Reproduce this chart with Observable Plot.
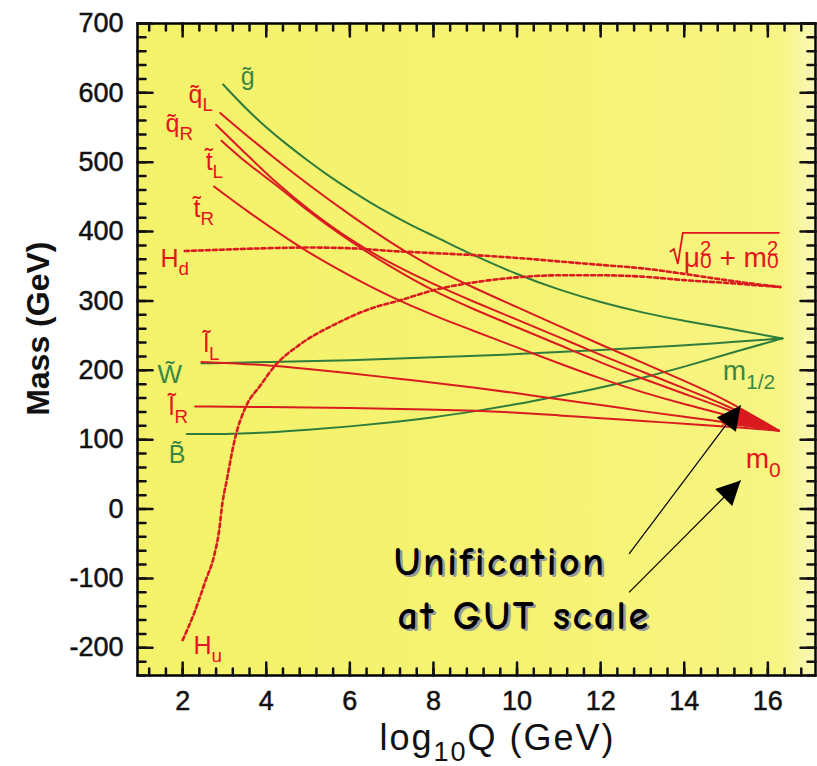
<!DOCTYPE html>
<html><head><meta charset="utf-8">
<script src="https://cdn.jsdelivr.net/npm/d3@7"></script>
<script src="https://cdn.jsdelivr.net/npm/@observablehq/plot@0.6"></script>
<style>
html,body{margin:0;padding:0;background:#fff;}
#chart svg{display:block;}
g[aria-label="y-axis tick label"] text, g[aria-label="x-axis tick label"] text{stroke:#111;stroke-width:0.5px;}
</style></head><body><div id="chart"></div>
<script>
// ---- data (x = log10 Q, y = mass in GeV) ----
const gluino = [[2.97,612],[3.5,578],[4,550],[4.5,525],[5,502],[5.5,480],[6,460],[6.75,432],[7.5,408],[8,394],[8.5,379],[9,365],[10,338],[11,316],[12,298],[13,283],[14,271],[15,261],[16.35,246]];
const wino   = [[2.45,210],[4,212],[6,214],[8,219],[10,223],[12,229],[14,236],[15,240],[16.35,246]];
const bino   = [[2.1,108],[3,108],[4,110],[5,114],[6,119],[7,125],[8,132],[9,141],[10,151],[11,163],[12,175],[13,189],[14,205],[15,223],[16.35,246]];
const squarkL = [[2.9,571],[3.6,535],[4.3,501],[5,468],[6,424],[7,383],[8,347],[9,318],[10,291],[11,264],[12,237],[13,211],[14,185],[15,158],[16.26,113]];
const squarkR = [[2.8,554],[3.6,507],[4.3,467],[5,432],[6,388],[7,353],[8,324],[9,298],[10,273],[11,248],[12,222],[13,198],[14,174],[15,150],[16.26,113]];
const stopL   = [[2.93,531],[3.6,495],[4.3,465],[5,429],[6,386],[7,348],[8,314],[9,287],[10,262],[11,237],[12,211],[13,188],[14,166],[15,145],[16.26,113]];
const stopR   = [[2.75,465],[3.6,427],[4.3,398],[5,370],[6,336],[7,305],[8,279],[9,256],[10,233],[11,210],[12,188],[13,168],[14,151],[15,136],[16.26,113]];
const sleptonL = [[2.45,212],[4,208],[5,202],[6,196],[7,189],[8,182],[9,175],[10,167],[11,158],[12,150],[13,141],[14,133],[15,125],[16.26,113]];
const sleptonR = [[2.3,148],[4,147],[6,146],[8,143],[9,142],[10,139],[11,135],[12,131],[13,127],[14,123],[15,119],[16.26,113]];
const higgsD = [[2.05,372],[3,374],[4,376],[5,377],[6,376],[7,372],[8,369],[9,366],[10,362],[11,357],[12,352],[13,347],[14,339],[15,330],[16.3,320]];
const higgsU = [[2.0,-189],[2.27,-151],[2.55,-103],[2.75,-68],[2.87,-32],[2.95,8],[3.05,40],[3.27,106],[3.5,146],[3.87,179],[4.2,206],[4.8,237],[5.7,268],[6.5,289],[7.2,301],[8.17,318],[9,327],[10,334],[11,337],[12,337],[13,335],[14,330],[15,326],[16.3,320]];
const wedgeX = [14.9, 15.3, 16.26];
const wedgeLow = [121, 119, 113];
const wedgeHigh = [121, 146, 113];

const labelText = ["g̃","q̃_{L}","q̃_{R}","t̃_{L}","t̃_{R}","H_{d}","μ^{2}_{0} + m^{2}_{0}","l̃_{L}","W̃","l̃_{R}","B̃","H_{u}","m_{1/2}","m_{0}"];
const labelX    = [3.39, 2.14, 1.59, 2.55, 2.26, 1.47, 13.99, 2.5, 1.4, 1.67, 1.67, 2.26, 14.92, 15.47];
const labelY    = [611, 585, 543, 489, 421, 349, 349, 226, 181, 135, 66, -209, 186, 59];
const labelKind = ["g","r","r","r","r","r","r","r","g","r","g","r","g","r"];
const labelSize = [25, 25, 25, 25, 25, 25, 28, 25, 26, 25, 25, 25, 28, 28];

const noteLines = ["Unification", "at GUT scale"];
const noteX = [7.05, 7.14];
const noteY = [-94.5, -172.5];

const arrowX1 = [12.68, 12.68], arrowY1 = [-64.7, -120.1];
const arrowX2 = [15.35, 15.35], arrowY2 = [149.4, 41.1];

const xTickLabels = [2,4,6,8,10,12,14,16];
const yTickLabels = [-200,-100,0,100,200,300,400,500,600,700];
const xMinor = d3.range(3, 43).map(i => +(i * 0.4).toFixed(1));
const yMinor = d3.range(-12, 36).map(i => i * 20);
const xDomain = [0.92, 17.14], yDomain = [-240, 700];

// ---- build tables ----
const RED = "#d91b20", GREEN = "#2f7c3c", RED_T = "#e3141e", GREEN_T = "#3a8744";
const series = [
  ["gluino", gluino, "g", false], ["wino", wino, "g", false], ["bino", bino, "g", false],
  ["squarkL", squarkL, "r", false], ["squarkR", squarkR, "r", false], ["stopL", stopL, "r", false], ["stopR", stopR, "r", false],
  ["sleptonL", sleptonL, "r", false], ["sleptonR", sleptonR, "r", false],
  ["higgsD", higgsD, "r", true], ["higgsU", higgsU, "r", true]
];
const rows = series.flatMap(([name, pts, kind, dotted]) => pts.map(([x, y]) => ({name, x, y, kind, dotted})));
const wedge = wedgeX.map((x, i) => ({x, y1: wedgeLow[i], y2: wedgeHigh[i]}));
const labels = labelText.map((t, i) => ({t, x: labelX[i], y: labelY[i], c: labelKind[i] === "g" ? GREEN_T : RED_T, s: labelSize[i]}));
const notes = noteLines.map((t, i) => ({t, x: noteX[i], y: noteY[i]}));
const arrows = arrowX1.map((x1, i) => ({x1, y1: arrowY1[i], x2: arrowX2[i], y2: arrowY2[i]}));

const W = 817, H = 766, ML = 137, MR = 2, MT = 23, MB = 91;
const innerW = W - ML - MR, innerH = H - MT - MB;
const ux = (xDomain[1] - xDomain[0]) / innerW, uy = (yDomain[1] - yDomain[0]) / innerH;
const [xa, xb] = xDomain, [ya, yb] = yDomain;
// inward tick segments (pixel lengths converted to data units), as 2-point polylines
let tid = 0;
const seg = (x1, y1, x2, y2) => { const id = tid++; return [{id, x: x1, y: y1}, {id, x: x2, y: y2}]; };
const tickRows = [
  ...xTickLabels.flatMap(v => [...seg(v, ya, v, ya + 13 * uy), ...seg(v, yb, v, yb - 13 * uy)]),
  ...xMinor.flatMap(v => [...seg(v, ya, v, ya + 7 * uy), ...seg(v, yb, v, yb - 7 * uy)]),
  ...yTickLabels.flatMap(v => [...seg(xa, v, xa + 15 * ux, v), ...seg(xb, v, xb - 15 * ux, v)]),
  ...yMinor.flatMap(v => [...seg(xa, v, xa + 8 * ux, v), ...seg(xb, v, xb - 8 * ux, v)])
];

const fmt = d => `${d}`;
const labelMarks = d3.groups(labels, d => d.s + d.c).map(([, arr]) =>
  Plot.text(arr, {x: "x", y: "y", text: "t", fill: arr[0].c, fontSize: arr[0].s, textAnchor: "start", lineAnchor: "bottom", fontFamily: "Liberation Sans, Arial, sans-serif"}));
const noteFont = "'Comic Sans MS', 'Comic Neue', 'Open Sans', sans-serif";

const chart = Plot.plot({
  width: W, height: H,
  marginLeft: ML, marginRight: MR, marginTop: MT, marginBottom: MB,
  style: {fontFamily: "Liberation Sans, Arial, sans-serif", background: "#fff", color: "#111"},
  x: {domain: xDomain, label: null},
  y: {domain: yDomain, label: null},
  axis: null,
  marks: [
    Plot.frame({fill: "url(#bgGrad)", stroke: "none"}),
    Plot.areaY(wedge, {x: "x", y1: "y1", y2: "y2", fill: RED}),
    Plot.line(rows.filter(d => d.kind === "g"), {x: "x", y: "y", z: "name", stroke: GREEN, strokeWidth: 2, curve: "basis"}),
    Plot.line(rows.filter(d => d.kind === "r" && !d.dotted), {x: "x", y: "y", z: "name", stroke: RED, strokeWidth: 2, curve: "basis"}),
    Plot.line(rows.filter(d => d.dotted), {x: "x", y: "y", z: "name", stroke: RED, strokeWidth: 2.6, strokeDasharray: "4,3", curve: "monotone-x"}),
    ...labelMarks,
    Plot.text(notes, {x: "x", y: "y", text: "t", fill: "#9a9a9a", dx: 2.5, dy: 2.5, fontSize: 40, fontWeight: 600, textAnchor: "start", lineAnchor: "bottom", fontFamily: noteFont}),
    Plot.text(notes, {x: "x", y: "y", text: "t", fill: "#000", fontSize: 40, fontWeight: 600, textAnchor: "start", lineAnchor: "bottom", fontFamily: noteFont}),
    Plot.link(arrows, {x1: "x1", y1: "y1", x2: "x2", y2: "y2", stroke: "#000", strokeWidth: 1.2}),
    // tick labels
    Plot.axisX(xTickLabels, {anchor: "bottom", tickSize: 0, tickPadding: 15, fontSize: 27, tickFormat: fmt, label: null}),
    Plot.axisY(yTickLabels, {anchor: "left", tickSize: 0, tickPadding: 14, fontSize: 27, tickFormat: fmt, label: null}),
    // axis titles
    Plot.text(["log_{10}Q (GeV)"], {frameAnchor: "bottom", textAnchor: "middle", dx: 21, dy: 74, lineAnchor: "bottom", fontSize: 36, fill: "#111"}),
    Plot.text(["Mass (GeV)"], {x: xa - 99 * ux, y: 260, textAnchor: "middle", rotate: -90, lineAnchor: "middle", fontSize: 32, fontWeight: "bold", fill: "#111"}),
    Plot.frame({stroke: "black", strokeWidth: 2.5}),
    Plot.line(tickRows, {x: "x", y: "y", z: "id", stroke: "#111", strokeWidth: 2.5, curve: "linear"})
  ]
});
document.getElementById("chart").append(chart);

// background gradient + arrowhead marker
const svg = d3.select(chart);
const defs = svg.insert("defs", ":first-child");
const grad = defs.append("linearGradient").attr("id", "bgGrad").attr("x1", 0).attr("x2", 1).attr("y1", 0).attr("y2", 0);
[[0, "#f4f16a"], [0.6, "#f6f373"], [0.95, "#f7f584"], [1, "#f9f8b8"]].forEach(([o, c]) => grad.append("stop").attr("offset", o).attr("stop-color", c));
defs.append("marker").attr("id", "ah").attr("viewBox", "0 0 10 10").attr("refX", 10).attr("refY", 5)
  .attr("markerUnits", "userSpaceOnUse").attr("markerWidth", 30).attr("markerHeight", 24).attr("orient", "auto")
  .append("path").attr("d", "M0,0L10,5L0,10z").attr("fill", "#000");
svg.select('g[aria-label="link"]').selectAll("path").attr("marker-end", "url(#ah)");

// letter spacing for some texts
svg.selectAll("text").each(function() {
  const t = this.textContent;
  if (t === "Unification" || t === "at GUT scale") this.style.letterSpacing = "2.5px";
  if (t.startsWith("log_")) this.style.letterSpacing = "2px";
});

// rich text: subscripts / superscripts (+ radical sign for the μ label)
const ns = "http://www.w3.org/2000/svg";
function rich(el) {
  const s = el.textContent;
  if (!/[_^]\{/.test(s)) return;
  const fs = parseFloat(getComputedStyle(el).fontSize) || 25;
  el.textContent = "";
  const re = /([_^])\{([^}]*)\}|([^_^]+)/g;
  let m, cur = 0, prevSup = null;
  while ((m = re.exec(s))) {
    const ts = document.createElementNS(ns, "tspan");
    let target, dx = 0;
    if (m[3] !== undefined) { ts.textContent = m[3]; target = 0; }
    else if (m[1] === "^") { ts.textContent = m[2]; ts.setAttribute("font-size", fs * 0.72); target = -0.42 * fs; }
    else {
      ts.textContent = m[2]; ts.setAttribute("font-size", fs * 0.75);
      target = prevSup ? 0.05 * fs : 0.32 * fs;
      if (prevSup) dx = -prevSup.getComputedTextLength();
    }
    ts.setAttribute("dy", target - cur);
    if (dx) ts.setAttribute("dx", dx);
    cur = target;
    el.appendChild(ts);
    prevSup = (m[1] === "^") ? ts : null;
  }
  if (s.startsWith("μ")) {
    const p0 = el.getStartPositionOfChar(0);
    const bb = el.getBBox();
    const xs = p0.x, xe = bb.x + bb.width, b = p0.y;
    const path = document.createElementNS(ns, "path");
    path.setAttribute("d", `M${xs-14},${b-15}L${xs-10},${b-18}L${xs-6},${b-3}L${xs-1},${b-34}L${xe+1},${b-34}`);
    path.setAttribute("fill", "none");
    path.setAttribute("stroke", el.getAttribute("fill") || getComputedStyle(el).fill);
    path.setAttribute("stroke-width", 1.8);
    const tr = el.getAttribute("transform"); if (tr) path.setAttribute("transform", tr);
    el.parentNode.appendChild(path);
  }
}
svg.selectAll("text").each(function() { rich(this); });
</script></body></html>
